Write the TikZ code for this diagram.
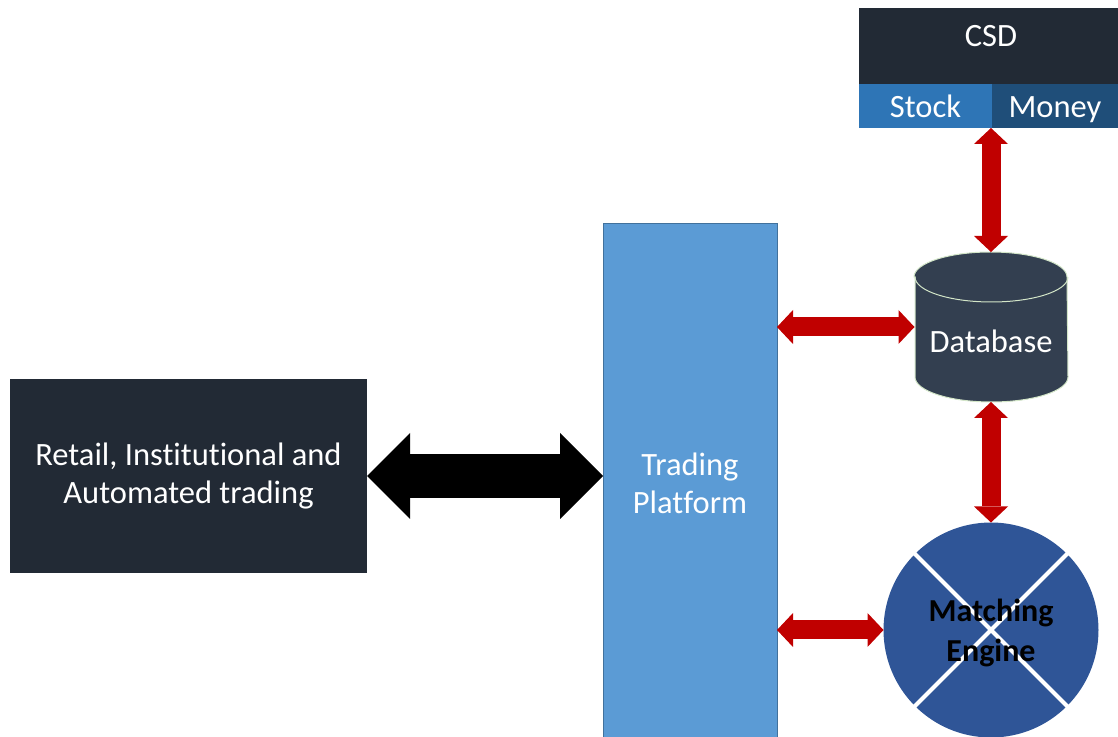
\documentclass[tikz,border=0pt]{standalone}
\usepackage{fontspec}
\setmainfont{Carlito}[Ligatures=NoCommon]
\usetikzlibrary{arrows.meta,calc}

\definecolor{darkpanel}{HTML}{222A35}
\definecolor{platform}{HTML}{5B9BD5}
\definecolor{platformedge}{HTML}{41719C}
\definecolor{stockblue}{HTML}{2E75B6}
\definecolor{moneyblue}{HTML}{1F4E79}
\definecolor{dbfill}{HTML}{333F50}
\definecolor{dbedge}{HTML}{D3E6C8}
\definecolor{engine}{HTML}{2F5597}
\definecolor{linkred}{HTML}{C00000}

\begin{document}
\begin{tikzpicture}[x=0.75pt,y=-0.75pt,
  every node/.style={inner sep=0pt,outer sep=0pt},
  bigtext/.style={font=\fontsize{24.4}{28.5}\selectfont,align=center,text=white},
  panel/.style={rectangle,fill=#1,draw=none},
  redlink/.style={draw=linkred,line width=14.25pt,
    {Triangle[length=12pt,width=25.5pt,line width=0pt]}-{Triangle[length=12pt,width=25.5pt,line width=0pt]}},
  blacklink/.style={draw=black,line width=33pt,
    {Triangle[length=32.25pt,width=64.5pt,line width=0pt]}-{Triangle[length=32.25pt,width=64.5pt,line width=0pt]}}
]
\useasboundingbox (0,0) rectangle (1118,737);

% client side
\node[panel=darkpanel,bigtext,minimum width=267.75pt,minimum height=145.5pt]
  (retail) at (188.5,476) {Retail, Institutional and\\Automated trading};

% trading platform column (runs off the bottom edge)
\node[rectangle,fill=platform,draw=platformedge,line width=0.75pt,bigtext,
  minimum width=130.5pt,minimum height=388.5pt] (tp) at (690,483) {Trading\\Platform};

% CSD block
\node[panel=darkpanel,minimum width=194.25pt,minimum height=57pt] (csd) at (988.5,46) {};
\node[bigtext] (csdtext) at (991,36.5) {CSD};
\node[panel=stockblue,bigtext,text height=18pt,text depth=0pt,
  minimum width=99.75pt,minimum height=33pt] (stock) at (925.5,106) {Stock};
\node[panel=moneyblue,bigtext,text height=18pt,text depth=0pt,
  minimum width=94.5pt,minimum height=33pt] (money) at (1055,106) {Money};

% database cylinder
\node[rectangle,minimum width=114.75pt,minimum height=112.5pt] (db) at (991,327) {};
\path[fill=dbfill,draw=dbedge,line width=0.75pt]
  (915,277) -- (915,377)
  arc[start angle=180,end angle=360,x radius=57.375pt,y radius=18.75pt]
  -- (1067,277)
  arc[start angle=0,end angle=180,x radius=57.375pt,y radius=18.75pt] -- cycle;
\draw[dbedge,line width=0.75pt] (915,277)
  arc[start angle=180,end angle=360,x radius=57.375pt,y radius=18.75pt];
\node[bigtext] (dbtext) at (991,341) {Database};

% matching engine
\node[circle,fill=engine,minimum size=161.25pt] (me) at (991,630) {};
\draw[white,line width=3pt,shorten <=-3pt,shorten >=-3pt] (me.north west) -- (me.south east);
\draw[white,line width=3pt,shorten <=-3pt,shorten >=-3pt] (me.north east) -- (me.south west);
\node[font=\bfseries\fontsize{24}{30}\selectfont,align=center,text=black] (metext) at (991,633) {Matching\\Engine};

% links
\draw[blacklink] (retail.east) -- (tp.west |- retail.east);
\draw[redlink] (db.north |- stock.south) -- (db.north);
\draw[redlink] (tp.east |- db.west) -- (db.west);
\draw[redlink] (db.south) -- (me.north);
\draw[redlink] (tp.east |- me.west) -- (me.west);
\end{tikzpicture}
\end{document}
